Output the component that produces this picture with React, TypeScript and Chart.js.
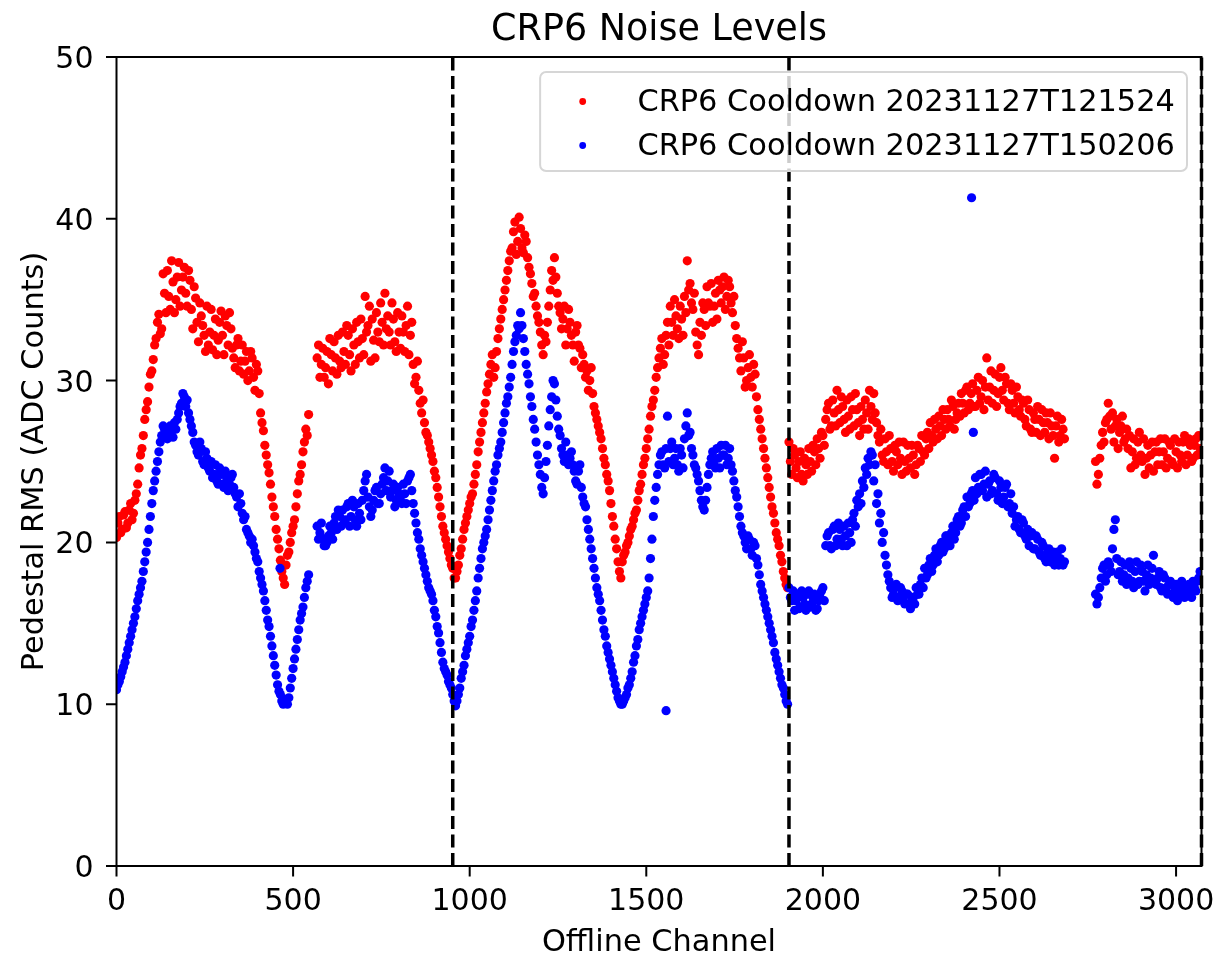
import React, { useEffect, useRef } from "react";
import { Chart, registerables } from "chart.js";

Chart.register(...registerables);

// ---------------- data ----------------
const TITLE = "CRP6 Noise Levels";
const X_LABEL = "Offline Channel";
const Y_LABEL = "Pedestal RMS (ADC Counts)";
const SERIES_LABELS = ["CRP6 Cooldown 20231127T121524", "CRP6 Cooldown 20231127T150206"];
const SERIES_COLORS = ["#ff0000", "#0000ff"];

const CHANNEL_STEP = 8; // samples every 8 channels: "A" arrays at 8i, "B" arrays at 8i+4
const CHANNEL_OFFSET_B = 4;
const X_MIN = 0;
const X_MAX = 3072;
const Y_MIN = 0;
const Y_MAX = 50;
const X_TICKS = [0, 500, 1000, 1500, 2000, 2500, 3000];
const Y_TICKS = [0, 10, 20, 30, 40, 50];
const PLANE_BOUNDARIES = [952, 1904, 3072];

// Cooldown 20231127T121524 (red), channels 0, 8, 16, ... (16 per row)
const RED_RMS_A: (number | null)[] = [
  20.3, 21.6, 20.8, 21.9, 21.2, 22.4, 21.8, 23.0, 24.6, 25.8, 27.6, 28.7, 30.4, 31.3, 32.6, 34.1,
  33.2, 35.4, 36.8, 34.4, 36.1, 35.0, 37.3, 35.6, 37.0, 34.6, 36.2, 33.2, 35.1, 32.4, 34.0, 32.8,
  34.6, 33.0, 31.9, 33.8, 32.5, 34.3, 31.6, 33.4, 34.2, 32.0, 30.8, 32.6, 31.2, 30.4, 31.8, 30.6,
  31.4, 29.4, 30.6, 28.0, 26.9, 25.4, 24.3, 22.8, 21.6, 20.2, 18.9, 17.8, 18.6, 19.4, 20.6, 21.4,
  23.0, 24.2, 25.6, 27.0, 27.9, null, null, 31.4, 30.2, 32.0, 30.8, 29.8, 31.6, 32.4, 30.4, 31.2,
  33.0, 31.0, 32.8, 30.6, 32.2, 33.6, 31.4, 32.6, 35.2, 33.4, 31.2, 32.5, 34.2, 32.4, 33.6, 35.4,
  34.0, 32.2, 33.8, 31.8, 33.0, 34.0, 31.8, 34.6, 32.8, 31.0, 30.2, 29.4, 28.0, 27.4, 26.6, 25.8,
  25.0, 24.0, 22.8, 21.6, 20.6, 19.8, 19.0, 18.4, 17.8, 18.6, 19.6, 20.8, 21.6, 22.4, 23.0, 24.2,
  25.6, 26.8, 28.0, 29.3, 30.4, 31.6, 30.8, 32.6, 33.8, 35.0, 36.2, 37.4, 38.2, 39.8, 38.6, 39.4,
  37.9, 38.6, 37.0, 36.0, 35.4, 34.0, 33.0, 31.6, 32.4, 34.6, 36.8, 37.6, 35.4, 34.2, 33.8, 32.2,
  34.4, 32.8, 31.2, 33.4, 32.0, 31.6, 30.2, 29.4, 30.8, 28.4, 27.6, 26.8, 25.8, 24.8, 23.8, 22.4,
  21.0, 19.6, 18.2, 18.8, 19.4, 20.0, 20.8, 21.4, 22.0, 23.2, 24.2, 25.2, 26.4, 27.8, 28.8, 30.2,
  31.4, 32.6, 31.6, 33.6, 34.6, 32.8, 34.0, 32.6, 33.8, 35.2, 37.4, 36.0, 34.4, 33.0, 31.6, 32.8,
  34.4, 35.8, 34.6, 33.6, 35.4, 36.2, 34.8, 36.4, 35.2, 35.8, 34.2, 33.4, 32.0, 30.6, 31.4, 30.0,
  31.6, 29.6, 30.4, 28.2, 27.0, 25.8, 24.6, 23.4, 22.2, 21.2, 20.2, 19.2, 18.2, 17.4, 26.2, 24.2,
  25.4, 24.0, 25.6, 23.8, 24.8, 25.8, 24.4, 25.6, 26.4, 25.2, 26.6, 27.6, 28.6, 27.2, 28.0, 29.4,
  27.4, 28.4, 26.8, 27.8, 29.0, 27.2, 28.2, 26.6, 27.6, 28.8, 27.0, 28.4, 29.2, 27.4, 26.2, 25.4,
  26.4, 24.8, 25.8, 24.4, 25.6, 26.2, 24.2, 25.0, 26.0, 24.6, 25.4, 24.8, 25.8, 26.6, 25.4, 26.8,
  27.4, 26.2, 27.0, 27.8, 26.6, 27.6, 28.2, 27.2, 28.4, 27.6, 28.6, 29.2, 28.0, 29.6, 28.6, 29.8,
  28.4, 30.2, 29.0, 28.2, 31.4, 29.6, 28.6, 30.4, 29.2, 30.8, 28.8, 29.8, 28.2, 29.4, 28.0, 29.0,
  27.8, 28.6, 27.2, 28.2, 26.8, 27.6, 28.4, 26.6, 27.4, 28.0, 26.4, 27.2, 25.2, 27.8, 26.6, 27.0,
  null, null, null, null, null, null, null, null, null, null, null, 23.6, 25.2, 26.8, 27.4, 28.6,
  27.0, 26.2, 27.6, 26.8, 27.8, 26.4, 25.8, 24.6, 26.4, 25.2, 26.8, 25.0, 24.2, 26.0, 25.4, 24.4,
  26.2, 25.6, 24.8, 26.4, 25.2, 26.0, 24.8, 25.6, 26.2, 25.0, 26.6, 25.4, 26.0, 25.2, 26.4, 26.6,
];

// Cooldown 20231127T121524 (red), channels 4, 12, 20, ...
const RED_RMS_B: (number | null)[] = [
  21.2, 20.6, 21.7, 20.9, 22.0, 21.4, 22.6, 23.6, 25.4, 26.6, 28.2, 29.6, 30.6, 32.2, 33.6, 32.9,
  36.6, 34.2, 35.2, 37.4, 34.2, 36.4, 34.6, 36.4, 35.4, 36.8, 34.4, 35.8, 33.6, 34.8, 33.4, 31.8,
  32.2, 34.4, 32.8, 31.6, 33.6, 32.8, 34.0, 32.2, 33.2, 31.4, 32.2, 30.6, 32.2, 31.2, 30.0, 31.8,
  30.2, 31.0, 29.2, 27.4, 26.0, 24.8, 23.6, 22.2, 20.8, 19.6, 18.2, 17.4, 19.2, 20.0, 21.0, 22.2,
  23.8, 24.8, 26.2, 26.6, null, null, null, 32.2, 31.0, 30.2, 31.8, 32.6, 30.6, 31.4, 32.8, 30.8,
  31.8, 33.4, 31.6, 33.2, 31.0, 32.4, 33.8, 31.6, 33.0, 34.6, 33.8, 31.4, 33.0, 34.8, 32.2, 33.2,
  33.0, 34.8, 32.4, 34.2, 32.0, 33.0, 33.4, 31.6, 33.6, 29.8, 31.2, 28.6, 28.8, 26.8, 26.2, 25.4,
  24.4, 23.4, 22.2, 21.0, 20.2, 19.4, 18.6, 17.8, 18.2, 19.2, 20.2, 21.2, 22.0, 22.8, 23.6, 24.8,
  26.2, 27.4, 28.6, 29.8, 31.0, 30.2, 31.8, 33.2, 34.4, 35.6, 36.8, 38.0, 39.2, 37.8, 40.1, 38.2,
  39.0, 37.6, 36.6, 35.2, 34.6, 33.6, 32.2, 32.8, 33.6, 35.6, 36.2, 36.4, 34.6, 33.2, 34.6, 33.2,
  33.6, 32.2, 33.0, 32.2, 30.8, 31.0, 30.6, 30.0, 29.2, 28.0, 27.2, 26.4, 25.2, 24.2, 23.2, 21.6,
  20.2, 18.8, 17.8, 19.2, 19.8, 20.4, 21.0, 21.8, 22.6, 23.6, 24.8, 25.8, 27.0, 28.4, 29.4, 30.8,
  32.0, 31.0, 32.8, 32.2, 33.6, 35.0, 33.2, 34.6, 32.8, 34.2, 35.6, 34.8, 35.4, 32.2, 33.6, 34.8,
  33.4, 34.8, 36.0, 34.6, 33.8, 35.6, 35.8, 34.4, 36.2, 34.8, 35.2, 32.6, 31.4, 32.4, 29.6, 30.8,
  30.2, 31.0, 29.0, 27.6, 26.4, 25.2, 24.0, 22.8, 21.8, 20.6, 19.8, 18.8, 17.8, 17.2, 25.0, 25.8,
  24.6, 25.0, 24.2, 25.2, 24.2, 25.0, 26.0, 24.8, 25.8, 26.8, 26.0, 28.2, 27.0, 28.8, 27.2, 28.2,
  29.0, 27.6, 28.8, 27.0, 28.2, 29.2, 27.4, 28.4, 27.0, 28.0, 29.4, 27.6, 28.0, 26.6, 27.0, 25.0,
  25.6, 26.6, 25.0, 26.0, 24.8, 25.2, 26.2, 24.4, 25.2, 26.0, 24.2, 26.0, 25.0, 25.6, 26.4, 25.8,
  26.6, 27.6, 26.4, 27.2, 28.2, 27.0, 27.6, 28.8, 27.0, 28.0, 27.8, 28.6, 29.4, 28.2, 29.2, 28.4,
  29.4, 28.6, 30.0, 29.6, 28.8, 30.6, 29.4, 28.4, 30.2, 29.4, 30.2, 28.6, 29.8, 28.6, 29.6, 28.2,
  28.8, 27.6, 28.8, 27.0, 28.0, 26.8, 27.6, 28.2, 26.8, 27.4, 28.0, 26.6, 27.2, 26.2, 27.6, 26.4,
  null, null, null, null, null, null, null, null, null, null, 25.0, 24.2, 26.0, 26.2, 27.6, 27.8,
  28.0, 27.2, 25.8, 27.2, 26.2, 27.0, 26.6, 25.6, 24.8, 26.2, 25.4, 26.4, 25.2, 24.6, 26.2, 25.6,
  24.8, 26.4, 25.6, 24.6, 26.2, 25.0, 26.4, 24.6, 25.4, 26.2, 24.8, 26.4, 25.0, 26.0, 25.4, 25.8,
];

// Cooldown 20231127T150206 (blue), channels 0, 8, 16, ...
const BLUE_RMS_A: (number | null)[] = [
  10.9, 11.4, 12.0, 12.6, 13.4, 14.2, 15.0, 15.9, 16.8, 17.6, 18.8, 20.0, 21.6, 23.2, 24.4, 25.6,
  26.6, 27.0, 26.4, 27.2, 26.5, 27.0, 28.0, 28.6, 29.0, 28.8, 27.6, 26.8, 26.0, 25.4, 25.8, 24.8,
  25.2, 24.4, 24.0, 24.8, 23.6, 24.2, 23.4, 24.0, 23.6, 24.2, 23.0, 22.2, 22.4, 21.4, 20.8, 20.4,
  20.2, 19.4, 18.8, 17.8, 17.0, 15.8, 14.8, 13.6, 12.4, 11.2, 10.6, 10.0, 10.2, 10.4, 11.6, 12.8,
  14.0, 15.2, 16.0, 17.2, 18.0, null, null, 21.0, 20.6, 20.2, 19.8, 20.4, 20.6, 21.2, 20.8, 21.6,
  22.0, 21.4, 22.4, 21.6, 22.2, 21.0, 21.8, 22.6, 23.8, 22.8, 21.6, 22.6, 23.4, 22.4, 23.6, 24.6,
  23.8, 22.8, 23.6, 22.6, 23.0, 22.4, 23.0, 23.8, 24.2, 22.4, 21.2, 20.2, 19.2, 18.4, 17.6, 17.0,
  16.4, 15.4, 14.4, 13.2, 12.2, 11.8, 11.2, 10.6, 9.9, 10.6, 11.6, 12.4, 13.4, 14.2, 15.2, 16.4,
  17.8, 19.0, 20.0, 20.8, 22.0, 23.2, 24.4, 25.4, 26.2, 27.4, 28.6, 29.6, 31.0, 32.4, 33.4, 34.2,
  32.6, 31.0, 29.8, 28.4, 27.0, 25.4, 24.2, 23.0, 25.0, 27.2, 29.0, 29.8, 27.8, 26.6, 25.4, 26.2,
  24.8, 25.6, 24.4, 23.6, 24.8, 22.8, 22.2, 20.8, 19.6, 18.4, 17.2, 16.4, 15.2, 14.2, 13.2, 12.4,
  11.6, 10.8, 10.2, 10.0, 10.4, 11.0, 11.6, 12.6, 13.6, 14.6, 15.4, 16.2, 17.0, 19.0, 21.6, 23.4,
  24.8, 25.6, 24.6, 27.8, 25.8, 24.8, 25.8, 24.4, 25.4, 26.4, 28.0, 26.8, 25.4, 24.6, 23.8, 22.6,
  22.0, 23.4, 24.8, 25.6, 24.6, 25.2, 26.0, 25.4, 24.8, 25.8, 24.4, 23.2, 22.2, 21.0, 20.4, 19.6,
  20.2, 19.2, 19.8, 18.6, 17.4, 16.6, 15.8, 15.0, 14.2, 13.2, 12.4, 11.6, 11.0, 10.2, 17.2, 16.4,
  15.8, 16.8, 16.0, 16.6, 15.8, 17.0, 16.2, 16.8, 15.9, 16.6, 17.2, 19.8, 20.6, 19.6, 21.0, 20.2,
  20.8, 19.8, 20.4, 21.2, 20.0, 21.8, 22.6, 23.0, 23.8, 24.6, 25.2, 25.6, 23.8, 22.4, 21.2, 20.0,
  19.2, 18.0, 17.2, 16.8, 17.4, 16.6, 17.0, 16.2, 16.8, 15.9, 16.6, 17.2, 16.8, 17.8, 18.4, 18.0,
  19.0, 18.6, 19.6, 19.2, 20.0, 19.6, 20.4, 19.8, 21.0, 20.6, 21.6, 21.2, 22.2, 22.8, 22.4, 23.2,
  24.0, 23.4, 24.2, 23.6, 22.8, 23.8, 23.2, 24.0, 22.6, 23.4, 22.8, 23.6, 22.4, 21.8, 21.0, 21.6,
  20.6, 21.2, 20.2, 19.8, 20.6, 19.6, 20.2, 19.2, 19.8, 18.8, 19.6, 19.0, 18.6, 19.4, 19.0, 18.6,
  null, null, null, null, null, null, null, null, null, null, null, 16.2, 17.2, 18.4, 17.6, 18.8,
  18.2, 20.8, 19.0, 18.2, 17.6, 18.6, 17.8, 18.4, 17.2, 18.8, 17.6, 18.2, 17.0, 18.6, 17.8, 19.2,
  17.4, 18.2, 17.0, 17.8, 16.8, 17.6, 16.6, 17.4, 16.8, 17.6, 16.6, 17.2, 16.9, 17.6, 17.0, 17.8,
];

// Cooldown 20231127T150206 (blue), channels 4, 12, 20, ...
const BLUE_RMS_B: (number | null)[] = [
  11.2, 11.7, 12.3, 13.0, 13.8, 14.6, 15.4, 16.4, 17.2, 18.2, 19.4, 20.8, 22.4, 23.8, 25.0, 26.2,
  27.2, 26.6, 27.0, 26.6, 27.4, 27.6, 28.4, 29.2, 28.4, 28.0, 27.2, 26.2, 25.6, 26.2, 25.0, 25.6,
  24.6, 25.0, 24.2, 23.8, 24.6, 23.6, 24.4, 23.2, 24.0, 23.4, 22.8, 23.0, 21.8, 21.6, 20.6, 20.0,
  19.8, 19.0, 18.2, 17.4, 16.4, 15.2, 14.2, 13.0, 11.8, 10.8, 10.2, 10.3, 10.0, 11.0, 12.2, 13.4,
  14.6, 15.6, 16.6, 17.6, null, null, null, 20.2, 21.2, 19.8, 20.0, 21.0, 20.2, 21.6, 22.0, 21.0,
  21.2, 22.2, 21.0, 22.6, 21.4, 22.4, 21.4, 23.2, 24.2, 22.2, 22.0, 23.2, 22.4, 23.0, 24.0, 23.2,
  24.4, 23.2, 22.2, 23.4, 22.6, 23.6, 22.4, 24.0, 23.2, 21.8, 20.6, 19.6, 18.8, 18.0, 17.2, 16.8,
  15.8, 14.8, 13.8, 12.6, 12.0, 11.4, 11.0, 10.2, 10.2, 11.0, 12.0, 13.0, 13.8, 14.8, 15.8, 17.0,
  18.4, 19.6, 20.4, 21.4, 22.6, 23.8, 24.8, 25.8, 26.8, 28.0, 29.0, 30.2, 31.8, 32.8, 33.2, 33.4,
  31.8, 30.4, 29.0, 27.6, 26.2, 24.8, 23.4, 24.0, 26.0, 28.2, 30.0, 28.8, 27.0, 25.8, 25.0, 25.4,
  25.2, 24.8, 23.8, 24.4, 23.4, 22.4, 21.4, 20.2, 19.0, 17.8, 16.8, 15.8, 14.6, 13.6, 12.8, 12.0,
  11.2, 10.4, 10.0, 10.2, 10.6, 11.2, 12.0, 13.0, 14.0, 15.0, 15.8, 16.6, 17.8, 20.2, 22.6, 24.2,
  25.4, 24.8, 25.8, 25.0, 26.2, 25.2, 24.8, 25.8, 24.6, 27.2, 26.6, 25.8, 24.8, 24.2, 23.2, 22.2,
  22.6, 24.2, 25.2, 24.8, 25.8, 24.6, 25.4, 26.0, 25.2, 24.8, 23.8, 22.8, 21.6, 20.6, 20.0, 20.4,
  19.6, 20.0, 19.0, 18.0, 17.0, 16.2, 15.4, 14.6, 13.8, 12.8, 12.0, 11.2, 10.6, 10.0, 16.6, 17.0,
  16.4, 15.9, 17.0, 16.2, 16.8, 16.0, 16.6, 15.8, 16.4, 17.0, 16.4, 20.4, 19.8, 20.8, 19.8, 21.2,
  20.2, 21.0, 19.8, 20.6, 21.4, 21.0, 22.2, 22.4, 23.4, 24.2, 24.8, 25.4, 24.8, 23.0, 21.8, 20.6,
  18.6, 17.6, 16.6, 17.2, 16.4, 17.2, 16.4, 16.8, 16.2, 16.6, 16.2, 16.8, 17.4, 17.2, 17.8, 18.6,
  18.2, 19.2, 18.8, 19.8, 19.4, 20.4, 20.0, 20.6, 20.2, 21.4, 21.0, 22.0, 21.6, 22.2, 23.0, 22.6,
  23.0, 24.2, 23.2, 24.4, 23.6, 23.0, 24.2, 23.0, 23.8, 22.4, 23.4, 22.2, 23.0, 22.2, 21.4, 20.8,
  21.4, 20.4, 20.8, 20.4, 19.6, 20.4, 19.4, 20.0, 19.0, 19.4, 18.8, 19.4, 19.0, 18.6, 19.6, 18.8,
  null, null, null, null, null, null, null, null, null, null, 16.8, 16.6, 17.8, 18.6, 18.0, 18.6,
  19.6, 21.4, 18.0, 18.8, 18.0, 17.4, 18.8, 17.6, 18.2, 17.4, 18.6, 17.6, 18.0, 17.4, 18.4, 17.6,
  17.8, 17.2, 18.0, 17.2, 17.4, 16.8, 17.2, 16.4, 17.2, 17.0, 16.8, 17.4, 16.6, 17.2, 17.6, 18.2,
];

// isolated blue channels away from the band
const BLUE_OUTLIER_CHANNELS = [463, 1556, 2421, 2426];
const BLUE_OUTLIER_RMS = [18.4, 9.6, 41.3, 26.8];

// ---------------- styling ----------------
const FONT = "'DejaVu Sans', 'Liberation Sans', sans-serif";
const TICK_PX = 30;
const LABEL_PX = 30.4;
const TITLE_PX = 36.5;
const AREA = { left: 116.5, top: 57, right: 1201.5, bottom: 866 };
const W = 1216;
const H = 956;
const POINT_R = 4.6;
const TICK_LEN = 10.5;

function toPoints(values: (number | null)[], offset: number) {
  const pts: { x: number; y: number }[] = [];
  values.forEach((v, i) => {
    if (v !== null) pts.push({ x: i * CHANNEL_STEP + offset, y: v });
  });
  return pts;
}

const overlayPlugin = {
  id: "mplOverlay",
  afterDatasetsDraw(chart: any) {
    const { ctx, chartArea, scales } = chart;
    ctx.save();
    ctx.strokeStyle = "#000";
    ctx.lineWidth = 3.5;
    ctx.setLineDash([13, 5.5]);
    for (const b of PLANE_BOUNDARIES) {
      const x = scales.x.getPixelForValue(b);
      ctx.beginPath();
      ctx.moveTo(x, chartArea.bottom);
      ctx.lineTo(x, chartArea.top);
      ctx.stroke();
    }
    ctx.restore();
  },
  afterDraw(chart: any) {
    const { ctx, chartArea, scales } = chart;
    const { left, top, right, bottom } = chartArea;
    ctx.save();
    // frame
    ctx.strokeStyle = "#000";
    ctx.lineWidth = 2;
    ctx.strokeRect(left, top, right - left, bottom - top);

    // tick marks (positions from the chart's scales)
    ctx.beginPath();
    for (const v of X_TICKS) {
      const x = scales.x.getPixelForValue(v);
      ctx.moveTo(x, bottom);
      ctx.lineTo(x, bottom + TICK_LEN);
    }
    for (const v of Y_TICKS) {
      const y = scales.y.getPixelForValue(v);
      ctx.moveTo(left, y);
      ctx.lineTo(left - TICK_LEN, y);
    }
    ctx.stroke();

    // tick labels
    ctx.fillStyle = "#000";
    ctx.font = `${TICK_PX}px ${FONT}`;
    ctx.textBaseline = "alphabetic";
    ctx.textAlign = "center";
    for (const v of X_TICKS) {
      ctx.fillText(String(v), scales.x.getPixelForValue(v), bottom + 44);
    }
    ctx.textAlign = "right";
    for (const v of Y_TICKS) {
      ctx.fillText(String(v), left - 23, scales.y.getPixelForValue(v) + 10.9);
    }

    // title
    ctx.font = `${TITLE_PX}px ${FONT}`;
    ctx.textAlign = "center";
    ctx.fillText(TITLE, (left + right) / 2, top - 17);

    // axis titles
    ctx.font = `${LABEL_PX}px ${FONT}`;
    ctx.fillText(X_LABEL, (left + right) / 2, 951);
    ctx.save();
    ctx.translate(43, (top + bottom) / 2);
    ctx.rotate(-Math.PI / 2);
    ctx.textAlign = "center";
    ctx.fillText(Y_LABEL, 0, 0);
    ctx.restore();

    // legend
    ctx.font = `${LABEL_PX}px ${FONT}`;
    const textW = Math.max(...SERIES_LABELS.map((l) => ctx.measureText(l).width));
    const pad = 0.4 * LABEL_PX;
    const handle = 2 * LABEL_PX;
    const hpad = 0.8 * LABEL_PX;
    const boxW = pad + handle + hpad + textW + pad;
    const boxH = 99;
    const bx = right - 14.5 - boxW;
    const by = top + 15;
    ctx.beginPath();
    ctx.roundRect(bx, by, boxW, boxH, 6);
    ctx.fillStyle = "rgba(255,255,255,0.8)";
    ctx.fill();
    ctx.strokeStyle = "#d6d6d6";
    ctx.lineWidth = 2;
    ctx.stroke();
    const rows = [by + 28, by + 72];
    SERIES_LABELS.forEach((label, i) => {
      ctx.fillStyle = SERIES_COLORS[i];
      ctx.beginPath();
      ctx.arc(bx + pad + handle / 2, rows[i] + 1.5, 3.4, 0, Math.PI * 2);
      ctx.fill();
      ctx.fillStyle = "#000";
      ctx.textAlign = "left";
      ctx.fillText(label, bx + pad + handle + hpad, rows[i] + 11);
    });
    ctx.restore();
  },
};

export default function App() {
  const ref = useRef<HTMLCanvasElement | null>(null);

  useEffect(() => {
    document.body.style.margin = "0";
    const canvas = ref.current;
    if (!canvas) return;
    const red = toPoints(RED_RMS_A, 0).concat(toPoints(RED_RMS_B, CHANNEL_OFFSET_B));
    const blue = toPoints(BLUE_RMS_A, 0)
      .concat(toPoints(BLUE_RMS_B, CHANNEL_OFFSET_B))
      .concat(BLUE_OUTLIER_CHANNELS.map((c, i) => ({ x: c, y: BLUE_OUTLIER_RMS[i] })));
    const chart = new Chart(canvas, {
      type: "scatter",
      data: {
        datasets: [
          {
            label: SERIES_LABELS[0],
            data: red,
            backgroundColor: SERIES_COLORS[0],
            borderColor: SERIES_COLORS[0],
            pointRadius: POINT_R,
            pointBorderWidth: 0,
            order: 1,
          },
          {
            label: SERIES_LABELS[1],
            data: blue,
            backgroundColor: SERIES_COLORS[1],
            borderColor: SERIES_COLORS[1],
            pointRadius: POINT_R,
            pointBorderWidth: 0,
            order: 0,
          },
        ],
      },
      options: {
        animation: false,
        responsive: false,
        devicePixelRatio: 1,
        events: [],
        layout: { padding: { top: AREA.top, right: W - AREA.right, left: 0, bottom: 0 } },
        plugins: { legend: { display: false }, tooltip: { enabled: false }, title: { display: false } },
        scales: {
          x: {
            type: "linear",
            min: X_MIN,
            max: X_MAX,
            afterFit: (scale: any) => {
              scale.height = H - AREA.bottom;
              scale.paddingLeft = 0;
              scale.paddingRight = 0;
            },
            border: { display: false },
            grid: { display: false },
            ticks: { display: false },
          },
          y: {
            type: "linear",
            min: Y_MIN,
            max: Y_MAX,
            afterFit: (scale: any) => {
              scale.width = AREA.left;
              scale.paddingTop = 0;
              scale.paddingBottom = 0;
            },
            border: { display: false },
            grid: { display: false },
            ticks: { display: false },
          },
        },
      },
      plugins: [overlayPlugin],
    } as any);
    return () => chart.destroy();
  }, []);

  return (
    <div style={{ position: "fixed", left: 0, top: 0, width: W, height: H, background: "#fff" }}>
      <canvas ref={ref} width={W} height={H} style={{ width: W, height: H, display: "block" }} />
    </div>
  );
}
